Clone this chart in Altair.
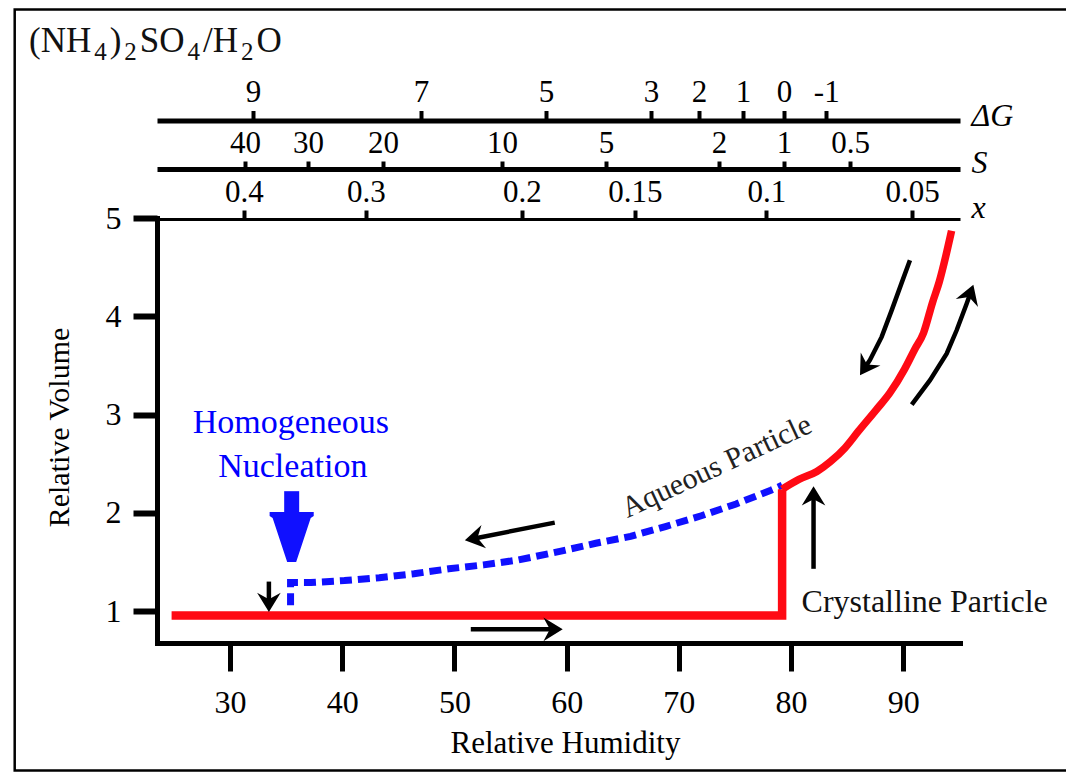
import math
import altair as alt
import pandas as pd

SERIF = "Liberation Serif"

# ---------------- scales / layout ----------------
RH_MIN, RH_MAX = 23.5, 95.05
V_MIN, V_MAX = 0.675, 5.0
W, H = 803, 425
PX_RH = W / (RH_MAX - RH_MIN)
PX_V = H / (V_MAX - V_MIN)

# ---------------- data ----------------
# crystalline particle (red): flat, jump at deliquescence
step_rh = [24.8, 79.2, 79.2]
step_v = [0.955, 0.955, 2.24]
# aqueous particle growth curve (red)
curve_rh = [79.2, 80.7, 82.3, 83.5, 84.8, 86.0, 87.6, 88.8, 90.1, 91.0, 91.8, 92.6, 93.2, 93.8, 94.3]
curve_v = [2.24, 2.34, 2.42, 2.52, 2.66, 2.83, 3.05, 3.22, 3.46, 3.66, 3.83, 4.14, 4.35, 4.62, 4.87]

# metastable aqueous branch on decreasing RH (blue, dashed)
blue_rh = [35.4, 35.4, 37.2, 40.2, 43.3, 46.4, 49.5, 52.6, 55.7, 59.5, 62.6, 65.7, 68.8, 72.0, 75.1, 78.2, 79.2]
blue_v = [1.06, 1.29, 1.29, 1.31, 1.34, 1.38, 1.43, 1.47, 1.52, 1.61, 1.69, 1.76, 1.86, 1.97, 2.09, 2.23, 2.28]

# bottom / left axes
rh_ticks = [30, 40, 50, 60, 70, 80, 90]
v_ticks = [1, 2, 3, 4, 5]

# top axes: tick labels and where they fall on the RH scale
dg_labels = ["9", "7", "5", "3", "2", "1", "0", "-1"]
dg_rh = [32.05, 47.02, 58.16, 67.52, 71.79, 75.71, 79.37, 83.13]
s_labels = ["40", "30", "20", "10", "5", "2", "1", "0.5"]
s_rh = [31.34, 36.95, 43.64, 54.24, 63.51, 73.58, 79.37, 85.25]
x_labels = ["0.4", "0.3", "0.2", "0.15", "0.1", "0.05"]
x_rh = [31.25, 42.12, 56.02, 66.08, 77.79, 90.78]

# black arrows (tail ... tip)
arrow_names = ["increase", "decrease", "crystallize", "deliquesce", "evaporate", "grow"]
arrow_rh = [[51.46, 59.65], [58.94, 50.93], [33.47, 33.47], [82.0, 82.0],
            [90.59, 89.85, 88.96, 88.07, 87.03, 86.14],
            [90.75, 92.38, 93.86, 94.76, 95.65, 96.24]]
arrow_v = [[0.814, 0.814], [1.90, 1.72], [1.30, 0.99], [1.43, 2.27],
           [4.57, 4.34, 4.06, 3.79, 3.555, 3.40],
           [3.10, 3.35, 3.62, 3.86, 4.13, 4.32]]

# big blue nucleation arrow
nuc_rh = 35.5
nuc_v = [2.22, 1.98]
nuc_tip_v = 1.50

# annotations
homog_rh, homog_v = [35.43, 35.6], [2.81, 2.365]
homog_txt = ["Homogeneous", "Nucleation"]
aq_rh, aq_v = 73.37, 2.47
cr_rh, cr_v = 91.9, 0.99

# formula label pieces (text, subscript?)
formula_txt = ["(NH", "4", ")", "2", "SO", "4", "/H", "2", "O"]
formula_sub = [False, True, False, True, False, True, False, True, False]

# ---------------- helpers ----------------
HEAD = "M0,0L1.1,1.8L0,1.2L-1.1,1.8Z"          # points up, tip at origin
BIG_HEAD = "M-0.3,0L0.3,0L1.27,-2.93L1.47,-3.07L1.47,-3.33L-1.47,-3.33L-1.47,-3.07L-1.27,-2.93Z"

shaft_rows, head_rows = [], []
for name, rs, vs in zip(arrow_names, arrow_rh, arrow_v):
    dx = (rs[-1] - rs[-2]) * PX_RH
    dy = -(vs[-1] - vs[-2]) * PX_V
    L = math.hypot(dx, dy)
    trim = 11.0
    r_end = rs[-1] - dx / L * trim / PX_RH
    v_end = vs[-1] + dy / L * trim / PX_V
    pts_r = rs[:-1] + [r_end]
    pts_v = vs[:-1] + [v_end]
    for i, (r, v) in enumerate(zip(pts_r, pts_v)):
        shaft_rows.append({"arrow": name, "i": i, "rh": r, "v": v})
    ang = math.degrees(math.atan2(dx, -dy)) % 360
    head_rows.append({"arrow": name, "rh": rs[-1], "v": vs[-1], "ang": ang})

shaft_df = pd.DataFrame(shaft_rows)
head_df = pd.DataFrame(head_rows)

# lay the formula pieces out side by side using Times-compatible advance widths
ADV = {"(": 0.333, ")": 0.333, "N": 0.722, "H": 0.722, "S": 0.556, "O": 0.722, "/": 0.278}
MAIN_FS, SUB_FS, GAP = 35, 25, 3
fx, cur = [], -128.0
for t, sub in zip(formula_txt, formula_sub):
    fx.append(cur)
    fs = SUB_FS if sub else MAIN_FS
    cur += sum(ADV.get(c, 0.5) for c in t) * fs + GAP
formula_df = pd.DataFrame({"t": formula_txt, "sub": formula_sub, "px": fx})

step_df = pd.DataFrame({"rh": step_rh, "v": step_v, "i": range(len(step_rh))})
curve_df = pd.DataFrame({"rh": curve_rh, "v": curve_v, "i": range(len(curve_rh))})
blue_df = pd.DataFrame({"rh": blue_rh, "v": blue_v, "i": range(len(blue_rh))})
one = pd.DataFrame({"a": [0]})

xs = alt.Scale(domain=[RH_MIN, RH_MAX], nice=False, zero=False)
ys = alt.Scale(domain=[V_MIN, V_MAX], nice=False, zero=False)


def X(field="rh"):
    return alt.X(f"{field}:Q", scale=xs, axis=None)


def Y(field="v"):
    return alt.Y(f"{field}:Q", scale=ys, axis=None)


def label_expr(pos, labels):
    arr_l = ",".join(f"'{l}'" for l in labels)
    arr_p = ",".join(repr(p) for p in pos)
    return f"[{arr_l}][indexof([{arr_p}], datum.value)]"


def top_axis(pos, labels, offset, tick, pad, dw, title, ty, tb):
    return alt.Axis(
        orient="top", offset=offset, values=pos, labelExpr=label_expr(pos, labels),
        tickSize=tick, tickWidth=4, tickColor="black", domainWidth=dw, domainColor="black",
        labelFont=SERIF, labelFontSize=31, labelColor="black", labelPadding=pad,
        labelFlush=False, labelOverlap=False, grid=False,
        title=title, titleX=814, titleY=ty, titleAlign="left", titleBaseline=tb, titleAngle=0,
        titleFont=SERIF, titleFontSize=32, titleFontStyle="italic", titleFontWeight="normal",
        titleColor="black",
    )


# ---------------- layers ----------------
frame = alt.Chart(one).mark_rect(fillOpacity=0, stroke="black", strokeWidth=2.5).encode(
    x=alt.value(-142.3), x2=alt.value(925), y=alt.value(-208.5), y2=alt.value(552.5)
)

bottom_axis = alt.Chart(pd.DataFrame({"rh": rh_ticks})).mark_point(opacity=0).encode(
    x=alt.X("rh:Q", scale=xs, axis=alt.Axis(
        orient="bottom", values=rh_ticks, format="d", tickSize=28, tickWidth=5, tickColor="black",
        domainWidth=5, domainColor="black", domainCap="square",
        labelFont=SERIF, labelFontSize=32, labelColor="black", labelPadding=16,
        labelFlush=False, labelOverlap=False, grid=False,
        title="Relative Humidity", titleX=408, titleY=109, titleAlign="center",
        titleBaseline="alphabetic", titleFont=SERIF, titleFontSize=31,
        titleFontWeight="normal", titleColor="black")),
    y=alt.value(0),
)

left_axis = alt.Chart(pd.DataFrame({"v": v_ticks})).mark_point(opacity=0).encode(
    x=alt.value(0),
    y=alt.Y("v:Q", scale=ys, axis=alt.Axis(
        orient="left", values=v_ticks, format="d", tickSize=24, tickWidth=6, tickColor="black",
        domainWidth=5, domainColor="black", domainCap="square",
        labelFont=SERIF, labelFontSize=32, labelColor="black", labelPadding=12,
        labelFlush=False, labelOverlap=False, grid=False,
        title="Relative Volume", titleX=-89, titleY=209, titleAngle=270, titleAlign="center",
        titleBaseline="alphabetic", titleFont=SERIF, titleFontSize=30,
        titleFontWeight="normal", titleColor="black")),
)

dg_axis = alt.Chart(pd.DataFrame({"rh": dg_rh})).mark_point(opacity=0).encode(
    x=alt.X("rh:Q", scale=xs, axis=top_axis(dg_rh, dg_labels, 97.5, 10, 2, 5, "ΔG", -5, "middle")),
    y=alt.value(0),
)
s_axis = alt.Chart(pd.DataFrame({"rh": s_rh})).mark_point(opacity=0).encode(
    x=alt.X("rh:Q", scale=xs, axis=top_axis(s_rh, s_labels, 49, 8, 1.5, 5, "S", -7, "middle")),
    y=alt.value(0),
)
x_axis = alt.Chart(pd.DataFrame({"rh": x_rh})).mark_point(opacity=0).encode(
    x=alt.X("rh:Q", scale=xs, axis=top_axis(x_rh, x_labels, -1, 9, 1.5, 3, "x", -2, "alphabetic")),
    y=alt.value(0),
)

blue = alt.Chart(blue_df).mark_line(
    color="#1010ff", strokeWidth=7, strokeDash=[12, 6], strokeCap="butt"
).encode(x=X(), y=Y(), order="i:Q")

red_step = alt.Chart(step_df).mark_line(
    color="#ff0a14", strokeWidth=8.5, strokeCap="butt", strokeJoin="miter"
).encode(x=X(), y=Y(), order="i:Q")

red_curve = alt.Chart(curve_df).mark_line(
    color="#ff0a14", strokeWidth=7.5, strokeCap="butt", interpolate="monotone"
).encode(x=X(), y=Y(), order="i:Q")

shafts = alt.Chart(shaft_df).mark_line(color="black", strokeWidth=4.5, strokeCap="butt").encode(
    x=X(), y=Y(), detail="arrow:N", order="i:Q"
)
heads = alt.Chart(head_df).mark_point(
    shape=HEAD, size=460, filled=True, color="black", opacity=1, strokeWidth=0
).encode(x=X(), y=Y(), angle=alt.Angle("ang:Q", scale=None))

nuc_shaft = alt.Chart(pd.DataFrame({"rh": [nuc_rh, nuc_rh], "v": nuc_v, "i": [0, 1]})).mark_line(
    color="#1010ff", strokeWidth=15, strokeCap="butt"
).encode(x=X(), y=Y(), order="i:Q")
nuc_head = alt.Chart(pd.DataFrame({"rh": [nuc_rh], "v": [nuc_tip_v]})).mark_point(
    shape=BIG_HEAD, size=900, filled=True, color="#1010ff", opacity=1, strokeWidth=0
).encode(x=X(), y=Y())

homog = alt.Chart(pd.DataFrame({"rh": homog_rh, "v": homog_v, "t": homog_txt})).mark_text(
    font=SERIF, fontSize=34, color="#0000ff", align="center", baseline="alphabetic"
).encode(x=X(), y=Y(), text="t:N")

aqueous = alt.Chart(pd.DataFrame({"rh": [aq_rh], "v": [aq_v]})).mark_text(
    text="Aqueous Particle", font=SERIF, fontSize=30, color="#222222", align="center",
    baseline="middle", angle=335
).encode(x=X(), y=Y())

crystal = alt.Chart(pd.DataFrame({"rh": [cr_rh], "v": [cr_v]})).mark_text(
    text="Crystalline Particle", font=SERIF, fontSize=32, color="#111111", align="center",
    baseline="alphabetic"
).encode(x=X(), y=Y())

formula_main = alt.Chart(formula_df).transform_filter("!datum.sub").mark_text(
    font=SERIF, fontSize=MAIN_FS, color="#111111", align="left", baseline="alphabetic"
).encode(x=alt.X("px:Q", scale=None), y=alt.value(-166), text="t:N")
formula_subs = alt.Chart(formula_df).transform_filter("datum.sub").mark_text(
    font=SERIF, fontSize=SUB_FS, color="#111111", align="left", baseline="alphabetic"
).encode(x=alt.X("px:Q", scale=None), y=alt.value(-158), text="t:N")

chart = alt.layer(
    frame, bottom_axis, left_axis, dg_axis, s_axis, x_axis,
    blue, red_step, red_curve, shafts, heads, nuc_shaft, nuc_head,
    homog, aqueous, crystal, formula_main, formula_subs,
).resolve_axis(x="independent", y="independent").properties(
    width=W, height=H,
    autosize=alt.AutoSizeParams(type="none"),
    padding={"left": 149, "top": 210, "right": 106, "bottom": 129},
).configure_view(strokeWidth=0)

chart.save("out.html", embed_options={"renderer": "svg", "actions": False})
